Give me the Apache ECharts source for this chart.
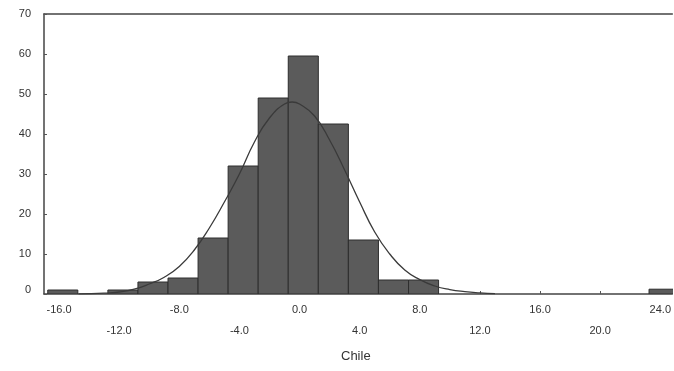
<!DOCTYPE html>
<html>
<head>
<meta charset="utf-8">
<script src="https://cdn.jsdelivr.net/npm/echarts@6/dist/echarts.min.js"></script>
<style>
  html, body { margin: 0; padding: 0; background: #fff; }
  #chart { width: 674px; height: 371px; }
</style>
</head>
<body>
<div id="chart"></div>
<script>
// histogram bins: left edge of each 2-wide bin and its count
const BIN_WIDTH = 2;
const binStart = [-16.75, -12.75, -10.75, -8.75, -6.75, -4.75, -2.75, -0.75, 1.25, 3.25, 5.25, 7.25, 23.25];
const binCount = [1, 1, 3, 4, 14, 32, 49, 59.5, 42.5, 13.5, 3.5, 3.5, 1.2];

// fitted normal curve
const curveX = [-14.7, -13, -12, -11, -10, -9, -8, -7, -6, -5, -4, -3, -2, -1, -0.5, 0, 1, 2, 3, 4, 5, 6, 7, 8, 9, 10, 11, 12, 13];
const curveY = [0.05, 0.2, 0.5, 1.2, 2.5, 4.2, 6.9, 11, 16.5, 23, 30, 38, 44, 47.5, 48, 47.5, 44.5, 38.5, 31, 23, 15.5, 10, 6, 3.6, 2, 1.1, 0.6, 0.3, 0.1];

const xTicks = [-16, -12, -8, -4, 0, 4, 8, 12, 16, 20, 24];

const chart = echarts.init(document.getElementById("chart"));

const bars = binStart.map((s, i) => [s, s + BIN_WIDTH, binCount[i]]);

const axisLine = { show: true, onZero: false, lineStyle: { color: "#444", width: 1.5 } };

chart.setOption({
  animation: false,
  textStyle: { fontFamily: "Liberation Sans, Arial, sans-serif" },
  grid: { left: 44, right: 0, top: 14, bottom: 77 },
  xAxis: [
    {
      type: "value",
      min: -17,
      max: 24.8,
      splitLine: { show: false },
      axisLine: axisLine,
      axisTick: {
        show: true,
        inside: true,
        length: 3,
        customValues: xTicks,
        lineStyle: { color: "#555" },
      },
      axisLabel: {
        customValues: xTicks,
        showMaxLabel: true,
        color: "#333",
        fontSize: 11,
        margin: 5,
        lineHeight: 21,
        formatter: (v) => {
          const s = v.toFixed(1);
          return ((v + 16) / 4) % 2 === 1 ? "\n" + s : s;
        },
      },
    },
    {
      // plain frame line along the top
      type: "value",
      position: "top",
      min: -17,
      max: 24.8,
      splitLine: { show: false },
      axisLine: axisLine,
      axisTick: { show: false },
      axisLabel: { show: false },
    },
  ],
  yAxis: {
    type: "value",
    min: 0,
    max: 70,
    interval: 10,
    splitLine: { show: false },
    axisLine: axisLine,
    axisTick: { show: true, inside: true, length: 3, lineStyle: { color: "#555" } },
    axisLabel: {
      color: "#333",
      fontSize: 11,
      margin: 13,
      formatter: (v) => (v === 0 ? "{z|0}" : String(v)),
      rich: { z: { fontSize: 11, color: "#333", padding: [0, 0, 8, 0] } },
    },
  },
  graphic: [
    {
      type: "text",
      left: 341,
      top: 350,
      style: { text: "Chile", fill: "#333", fontSize: 13, fontFamily: "Liberation Sans, Arial, sans-serif" },
    },
  ],
  series: [
    {
      type: "custom",
      data: bars,
      encode: { x: [0, 1], y: 2 },
      clip: true,
      renderItem: (params, api) => {
        const p0 = api.coord([api.value(0), api.value(2)]);
        const p1 = api.coord([api.value(1), 0]);
        return {
          type: "rect",
          shape: { x: p0[0], y: p0[1], width: p1[0] - p0[0], height: p1[1] - p0[1] },
          style: { fill: "#5b5b5b", stroke: "#2e2e2e", lineWidth: 1 },
        };
      },
      z: 2,
    },
    {
      type: "line",
      data: curveX.map((x, i) => [x, curveY[i]]),
      smooth: true,
      symbol: "none",
      lineStyle: { color: "#3a3a3a", width: 1.3 },
      z: 3,
    },
  ],
});
</script>
</body>
</html>
